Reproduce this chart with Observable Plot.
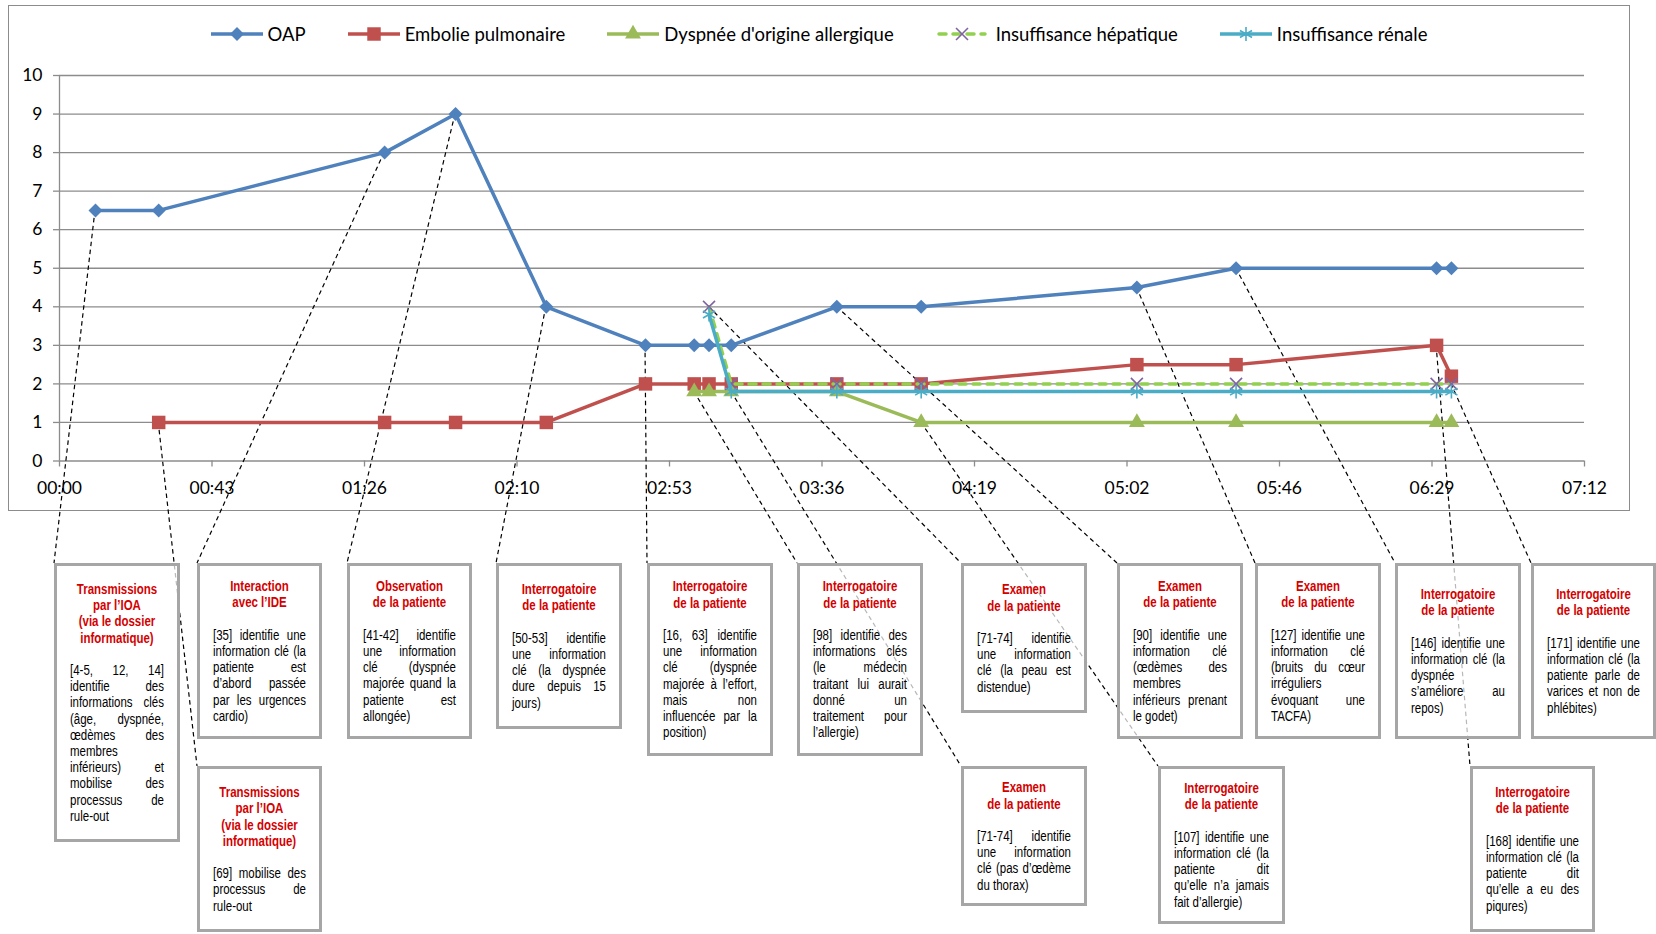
<!DOCTYPE html>
<html><head><meta charset="utf-8">
<script src="https://cdn.jsdelivr.net/npm/d3@7"></script>
<script src="https://cdn.jsdelivr.net/npm/@observablehq/plot@0.6"></script>
<style>
body{margin:0;background:#fff}
#wrap{position:relative;width:1656px;height:934px;overflow:hidden;background:#fff}
#frame{position:absolute;left:8px;top:5px;width:1622px;height:506px;border:1.3px solid #8c8c8c;box-sizing:border-box}
#legend{position:absolute;left:8px;top:22px;width:1622px;height:24px;display:flex;justify-content:center;align-items:center;gap:42px;font-family:Lato,"Open Sans",sans-serif;font-size:18.5px;color:#000}
.item{display:flex;align-items:center;white-space:nowrap}
.box{position:absolute;box-sizing:border-box;border:3.5px solid #a6a6a6;background:rgba(255,255,255,0.72);display:flex;flex-direction:column;justify-content:center;align-items:flex-start;padding:0 13px;font-family:"Liberation Sans",Arial,sans-serif;font-size:14px;line-height:16.2px;color:#000}
.content{width:calc(100% / 0.82);flex-shrink:0;transform:scaleX(0.82);transform-origin:0 50%}
.ttl{color:#d40000;font-weight:bold;text-align:center;margin-bottom:16.2px}
.ttl div{white-space:nowrap}
.ln{white-space:nowrap;text-align:justify;text-align-last:justify}
.ln.last{text-align-last:left}
</style></head>
<body><div id="wrap"><div id="frame"></div></div>
<script>
// ---------- DATA ----------
const seriesNames = ["OAP", "Embolie pulmonaire", "Dyspnée d'origine allergique", "Insuffisance hépatique", "Insuffisance rénale"];
const times = [10.2, 28.1, 92.1, 112.2, 137.9, 166.0, 179.8, 184.0, 190.3, 220.2, 244.1, 305.2, 333.3, 390.1, 394.3]; // minutes
const oap       = [6.5, 6.5, 8, 9, 4, 3, 3, 3, 3, 4, 4, 4.5, 5, 5, 5];
const embolie   = [null, 1, 1, 1, 1, 2, 2, 2, 2, 2, 2, 2.5, 2.5, 3, 2.2];
const dyspnee   = [null, null, null, null, null, null, 1.8, 1.8, 1.8, 1.8, 1, 1, 1, 1, 1];
const hepatique = [null, null, null, null, null, null, null, 4, 2, 2, 2, 2, 2, 2, 2];
const renale    = [null, null, null, null, null, null, null, 3.8, 1.8, 1.8, 1.8, 1.8, 1.8, 1.8, 1.8];
const seriesValues = [oap, embolie, dyspnee, hepatique, renale];
const yTicks = [0, 1, 2, 3, 4, 5, 6, 7, 8, 9, 10];
const xTickLabels = ["00:00", "00:43", "01:26", "02:10", "02:53", "03:36", "04:19", "05:02", "05:46", "06:29", "07:12"];

const boxTitles = {
  A: ["Transmissions", "par l’IOA", "(via le dossier", "informatique)"],
  B: ["Interaction", "avec l’IDE"],
  C: ["Observation", "de la patiente"],
  D: ["Interrogatoire", "de la patiente"],
  E: ["Interrogatoire", "de la patiente"],
  F: ["Interrogatoire", "de la patiente"],
  G: ["Examen", "de la patiente"],
  H: ["Examen", "de la patiente"],
  I: ["Examen", "de la patiente"],
  J: ["Interrogatoire", "de la patiente"],
  K: ["Interrogatoire", "de la patiente"],
  L: ["Transmissions", "par l’IOA", "(via le dossier", "informatique)"],
  M: ["Examen", "de la patiente"],
  N: ["Interrogatoire", "de la patiente"],
  O: ["Interrogatoire", "de la patiente"]
};
const boxBodies = {
  A: ["[4-5, 12, 14]", "identifie des", "informations clés", "(âge, dyspnée,", "œdèmes des", "membres", "inférieurs) et", "mobilise des", "processus de", "rule-out"],
  B: ["[35] identifie une", "information clé (la", "patiente est", "d’abord passée", "par les urgences", "cardio)"],
  C: ["[41-42] identifie", "une information", "clé (dyspnée", "majorée quand la", "patiente est", "allongée)"],
  D: ["[50-53] identifie", "une information", "clé (la dyspnée", "dure depuis 15", "jours)"],
  E: ["[16, 63] identifie", "une information", "clé (dyspnée", "majorée à l’effort,", "mais non", "influencée par la", "position)"],
  F: ["[98] identifie des", "informations clés", "(le médecin", "traitant lui aurait", "donné un", "traitement pour", "l’allergie)"],
  G: ["[71-74] identifie", "une information", "clé (la peau est", "distendue)"],
  H: ["[90] identifie une", "information clé", "(œdèmes des", "membres", "inférieurs prenant", "le godet)"],
  I: ["[127] identifie une", "information clé", "(bruits du cœur", "irréguliers", "évoquant une", "TACFA)"],
  J: ["[146] identifie une", "information clé (la", "dyspnée", "s’améliore au", "repos)"],
  K: ["[171] identifie une", "information clé (la", "patiente parle de", "varices et non de", "phlébites)"],
  L: ["[69] mobilise des", "processus de", "rule-out"],
  M: ["[71-74] identifie", "une information", "clé (pas d’œdème", "du thorax)"],
  N: ["[107] identifie une", "information clé (la", "patiente dit", "qu’elle n’a jamais", "fait d’allergie)"],
  O: ["[168] identifie une", "information clé (la", "patiente dit", "qu’elle a eu des", "piqures)"]
};
// which data point (series index, point index) each annotation box refers to
const annotationLinks = [
  {box: "A", s: 0, i: 0}, {box: "L", s: 1, i: 1}, {box: "B", s: 0, i: 2}, {box: "C", s: 0, i: 3},
  {box: "D", s: 0, i: 4}, {box: "E", s: 0, i: 5}, {box: "F", s: 2, i: 6}, {box: "G", s: 3, i: 7},
  {box: "M", s: 4, i: 8}, {box: "H", s: 0, i: 9}, {box: "N", s: 2, i: 10}, {box: "I", s: 0, i: 11},
  {box: "J", s: 0, i: 12}, {box: "O", s: 1, i: 13}, {box: "K", s: 3, i: 14}
];

// ---------- LAYOUT / STYLE ----------
const boxLayout = {
  A: {left: 54, top: 563, width: 126, height: 279},
  B: {left: 197, top: 563, width: 125, height: 176},
  C: {left: 347, top: 563, width: 125, height: 176},
  D: {left: 496, top: 563, width: 126, height: 166},
  E: {left: 647, top: 563, width: 126, height: 193},
  F: {left: 797, top: 563, width: 126, height: 193},
  G: {left: 961, top: 563, width: 126, height: 150},
  H: {left: 1117, top: 563, width: 126, height: 176},
  I: {left: 1255, top: 563, width: 126, height: 176},
  J: {left: 1395, top: 563, width: 126, height: 176},
  K: {left: 1531, top: 563, width: 125, height: 176},
  L: {left: 197, top: 766, width: 125, height: 166},
  M: {left: 961, top: 766, width: 126, height: 140},
  N: {left: 1158, top: 766, width: 127, height: 158},
  O: {left: 1470, top: 766, width: 125, height: 166}
};
const seriesStyle = [
  {color: "#4F81BD", symbol: "diamond2", r: 6.3, marker: "#4F81BD", filled: true},
  {color: "#C0504D", symbol: "square", r: 7.6, marker: "#C0504D", filled: true},
  {color: "#9BBB59", symbol: "triangle", r: 5.9, marker: "#9BBB59", filled: true},
  {color: "#92D050", symbol: "times", r: 5.5, marker: "#8064A2", filled: false, dash: "7,7"},
  {color: "#4BACC6", symbol: "asterisk", r: 6.6, marker: "#4BACC6", filled: false}
];
const d3Sym = {diamond2: d3.symbolDiamond2, square: d3.symbolSquare, triangle: d3.symbolTriangle, times: d3.symbolTimes, asterisk: d3.symbolAsterisk};
const gridColor = "#8c8c8c";

const xTickVals = xTickLabels.map((_, i) => i * 43.2);
const labelMap = new Map(xTickVals.map((v, i) => [v, xTickLabels[i]]));
const rows = vals => times.map((t, i) => ({t, v: vals[i]})).filter(d => d.v != null);

const linkMark = (index, scales) => {
  const g = d3.create("svg:g").attr("fill", "none").attr("stroke", "#000")
    .attr("stroke-width", 1.2).attr("stroke-dasharray", "4.5,3.5");
  for (const a of annotationLinks) {
    const b = boxLayout[a.box];
    g.append("line")
      .attr("x1", scales.x(times[a.i])).attr("y1", scales.y(seriesValues[a.s][a.i]))
      .attr("x2", b.left).attr("y2", b.top);
  }
  return g.node();
};

const seriesMarks = seriesValues.flatMap((vals, k) => {
  const st = seriesStyle[k];
  const data = rows(vals);
  return [
    Plot.line(data, {x: "t", y: "v", stroke: st.color, strokeWidth: 3.5,
      strokeDasharray: st.dash, strokeLinecap: st.dash ? "round" : "butt", strokeLinejoin: "round"}),
    st.filled
      ? Plot.dot(data, {x: "t", y: "v", symbol: st.symbol, r: st.r, fill: st.marker, stroke: "none"})
      : Plot.dot(data, {x: "t", y: "v", symbol: st.symbol, r: st.r, fill: "none", stroke: st.marker, strokeWidth: 1.6})
  ];
});

const plot = Plot.plot({
  width: 1656, height: 934,
  marginLeft: 59, marginRight: 72, marginTop: 75, marginBottom: 473.5,
  x: {domain: [0, 432]},
  y: {domain: [0, 10]},
  style: {fontFamily: "Lato, 'Open Sans', sans-serif", fontSize: "17.5px", overflow: "visible",
          position: "absolute", left: "0px", top: "0px", background: "transparent", color: "#000"},
  marks: [
    Plot.ruleY(yTicks, {stroke: gridColor, strokeWidth: 1.3}),
    Plot.ruleX([0], {y1: 0, y2: 10, stroke: gridColor, strokeWidth: 1.3}),
    Plot.axisY(yTicks, {tickSize: 6, tickPadding: 11, stroke: gridColor, strokeWidth: 1.3, fontSize: 17.5, label: null, tickFormat: d => String(d)}),
    Plot.axisX(xTickVals, {tickSize: 6, tickPadding: 15, stroke: gridColor, strokeWidth: 1.3, fontSize: 17.5, label: null, tickFormat: d => labelMap.get(d)}),
    linkMark,
    ...seriesMarks
  ]
});
const wrap = document.getElementById("wrap");
wrap.appendChild(plot);

// legend
const legend = document.createElement("div");
legend.id = "legend";
seriesNames.forEach((name, k) => {
  const st = seriesStyle[k];
  const size = Math.PI * st.r * st.r;
  const path = d3.symbol(d3Sym[st.symbol], size)();
  const item = document.createElement("div");
  item.className = "item";
  item.innerHTML = `<svg width="52" height="20" style="margin-right:${st.dash ? 8 : 5}px">
    <line x1="${st.dash ? 3 : 0}" x2="${st.dash ? 49 : 52}" y1="10" y2="10" stroke="${st.color}" stroke-width="3.5"
      ${st.dash ? `stroke-dasharray="7,7" stroke-linecap="round"` : ""}/>
    <path transform="translate(26,10)" d="${path}" fill="${st.filled ? st.marker : "none"}" stroke="${st.filled ? "none" : st.marker}" stroke-width="1.6"/>
  </svg><span>${name}</span>`;
  legend.appendChild(item);
});
wrap.appendChild(legend);

// annotation boxes
Object.keys(boxLayout).forEach(id => {
  const b = boxLayout[id];
  const div = document.createElement("div");
  div.className = "box";
  Object.assign(div.style, {left: b.left + "px", top: b.top + "px", width: b.width + "px", height: b.height + "px"});
  const c = document.createElement("div");
  c.className = "content";
  const t = document.createElement("div");
  t.className = "ttl";
  boxTitles[id].forEach(s => { const l = document.createElement("div"); l.textContent = s; t.appendChild(l); });
  c.appendChild(t);
  const body = boxBodies[id];
  body.forEach((s, j) => {
    const l = document.createElement("div");
    l.className = "ln" + (j === body.length - 1 ? " last" : "");
    l.textContent = s;
    c.appendChild(l);
  });
  div.appendChild(c);
  wrap.appendChild(div);
});
</script></body></html>
